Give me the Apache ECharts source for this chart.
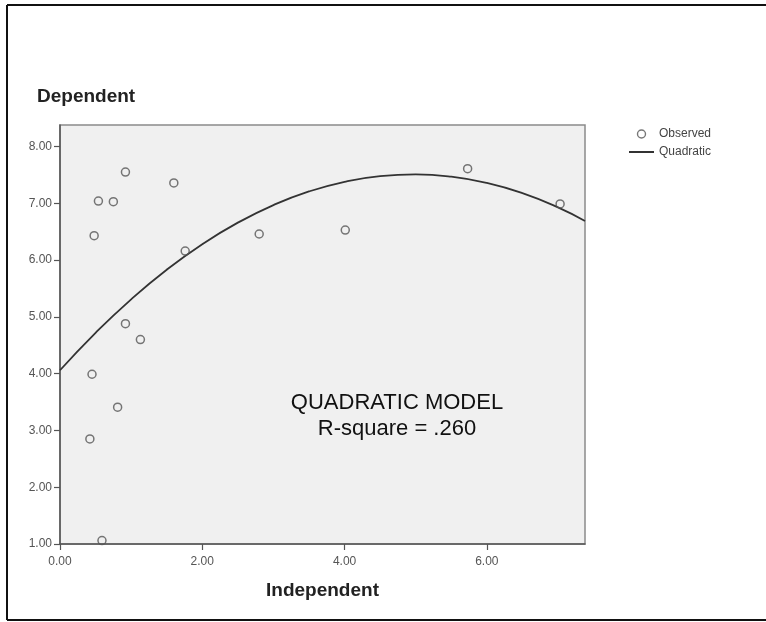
<!DOCTYPE html>
<html>
<head>
<meta charset="utf-8">
<title>Quadratic model</title>
<script src="https://cdn.jsdelivr.net/npm/echarts@6/dist/echarts.min.js"></script>
<style>
  html, body { margin: 0; padding: 0; background: #ffffff; }
  #chart { width: 766px; height: 622px; }
</style>
</head>
<body>
<div id="chart"></div>
<script>
// Observed cases
const obsX = [0.48, 0.54, 0.75, 0.92, 1.60, 1.76, 0.92, 1.13, 0.45, 0.81, 0.42, 0.59, 2.80, 4.01, 5.73, 7.03];
const obsY = [6.43, 7.04, 7.03, 7.55, 7.36, 6.16, 4.88, 4.60, 3.99, 3.41, 2.85, 1.06, 6.46, 6.53, 7.61, 6.99];

// Fitted quadratic curve, sampled along the independent axis
const fitX = [0, 0.5, 1, 1.5, 2, 2.5, 3, 3.5, 4, 4.5, 5, 5.5, 6, 6.5, 7, 7.38];
const fitY = [4.06, 4.72, 5.31, 5.83, 6.28, 6.66, 6.97, 7.21, 7.38, 7.48, 7.51, 7.47, 7.36, 7.18, 6.93, 6.69];

// Axis ticks
const xTicks = [0, 2, 4, 6];
const yTicks = [1, 2, 3, 4, 5, 6, 7, 8];

const seriesNames = ['Observed', 'Quadratic'];
const modelLines = ['QUADRATIC MODEL', 'R-square = .260'];

const FONT = '"Liberation Sans", Arial, sans-serif';
const chart = echarts.init(document.getElementById('chart'), null, { renderer: 'canvas' });

const axisCommon = {
  type: 'value',
  splitLine: { show: false },
  axisLine: { show: true, lineStyle: { color: '#555', width: 1.5 } },
  axisTick: { show: true, length: 6, lineStyle: { color: '#555', width: 1.2 } },
  axisLabel: { color: '#555', fontSize: 12, fontFamily: FONT, formatter: v => v.toFixed(2) }
};

chart.setOption({
  animation: false,
  backgroundColor: '#ffffff',
  grid: {
    left: 60, top: 125, width: 525, height: 419,
    show: true, backgroundColor: '#f0f0f0', borderColor: '#8a8a8a', borderWidth: 1.5
  },
  legend: {
    data: [
      { name: seriesNames[0], itemStyle: { color: 'rgba(0,0,0,0)', borderColor: '#555', borderWidth: 1.4 } },
      { name: seriesNames[1], itemStyle: { color: 'rgba(0,0,0,0)', borderWidth: 0 } }
    ],
    orient: 'vertical',
    left: 623, top: 123,
    itemWidth: 25, itemHeight: 8, itemGap: 6,
    textStyle: { fontSize: 12, color: '#444', fontFamily: FONT }
  },
  xAxis: Object.assign({}, axisCommon, {
    min: 0, max: 7.38,
    axisTick: Object.assign({}, axisCommon.axisTick, { customValues: xTicks }),
    axisLabel: Object.assign({}, axisCommon.axisLabel, { customValues: xTicks, margin: 12 }),
    name: 'Independent',
    nameLocation: 'middle',
    nameGap: 37,
    nameTextStyle: { fontSize: 19, fontWeight: 'bold', color: '#222', fontFamily: FONT }
  }),
  yAxis: Object.assign({}, axisCommon, {
    min: 1, max: 8.38,
    axisTick: Object.assign({}, axisCommon.axisTick, { customValues: yTicks }),
    axisLabel: Object.assign({}, axisCommon.axisLabel, { customValues: yTicks, margin: 8 })
  }),
  series: [
    {
      name: seriesNames[0],
      type: 'scatter',
      symbol: 'circle',
      symbolSize: 8,
      itemStyle: { color: 'rgba(0,0,0,0)', borderColor: '#555', borderWidth: 1.5 },
      data: obsX.map((x, i) => [x, obsY[i]]),
      z: 3
    },
    {
      name: seriesNames[1],
      type: 'line',
      smooth: true,
      symbol: 'none',
      itemStyle: { color: 'rgba(0,0,0,0)' },
      lineStyle: { color: '#333', width: 1.8 },
      data: fitX.map((x, i) => [x, fitY[i]]),
      z: 2
    }
  ],
  graphic: [
    // outer frame
    { type: 'line', shape: { x1: 7, y1: 5, x2: 766, y2: 5 }, style: { stroke: '#111', lineWidth: 2 } },
    { type: 'line', shape: { x1: 7, y1: 5, x2: 7, y2: 620 }, style: { stroke: '#111', lineWidth: 2 } },
    { type: 'line', shape: { x1: 7, y1: 620, x2: 766, y2: 620 }, style: { stroke: '#111', lineWidth: 2 } },
    // dependent axis title
    {
      type: 'text', left: 37, top: 87,
      style: { text: 'Dependent', font: 'bold 19px ' + FONT, fill: '#222' }
    },
    // model annotation
    {
      type: 'text', x: 397, y: 416, z: 10,
      style: {
        text: modelLines.join('\n'),
        font: '22px ' + FONT,
        fill: '#111',
        align: 'center',
        verticalAlign: 'middle',
        lineHeight: 26
      }
    }
  ]
});
</script>
</body>
</html>
